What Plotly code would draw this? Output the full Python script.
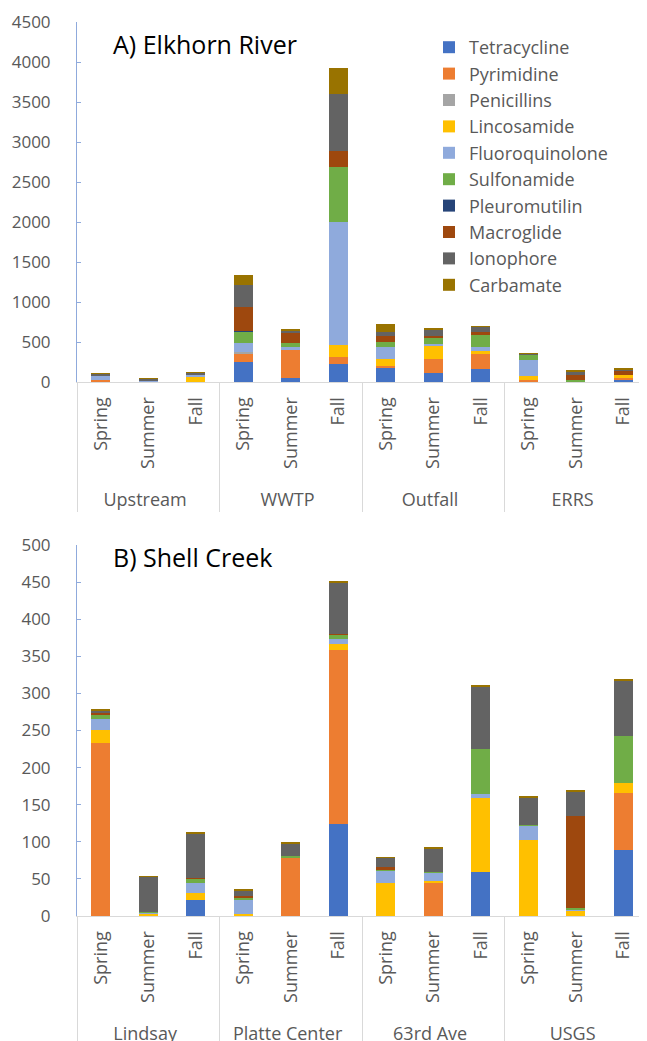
import plotly.graph_objects as go

# ---------------- data ----------------
series = ["Tetracycline", "Pyrimidine", "Penicillins", "Lincosamide", "Fluoroquinolone",
          "Sulfonamide", "Pleuromutilin", "Macroglide", "Ionophore", "Carbamate"]
colors = ["#4472C4", "#ED7D31", "#A5A5A5", "#FFC000", "#8FAADC",
          "#70AD47", "#264478", "#9E480E", "#636363", "#997300"]

seasons = ["Spring", "Summer", "Fall"]
sites_a = ["Upstream", "WWTP", "Outfall", "ERRS"]
sites_b = ["Lindsay", "Platte Center", "63rd Ave", "USGS"]

# A) Elkhorn River, order: Upstream Sp/Su/Fa, WWTP Sp/Su/Fa, Outfall Sp/Su/Fa, ERRS Sp/Su/Fa
tetracycline_a    = [0, 0, 0, 250, 50, 229, 171, 112, 158, 0, 0, 29]
pyrimidine_a      = [20, 0, 0, 104, 345, 79, 33, 171, 195, 29, 0, 17]
penicillins_a     = [0, 0, 0, 25, 0, 0, 0, 0, 0, 0, 0, 0]
lincosamide_a     = [0, 0, 60, 0, 0, 150, 87, 170, 33, 50, 0, 37]
fluoroquinolone_a = [55, 18, 30, 104, 37, 1547, 141, 21, 54, 200, 0, 0]
sulfonamide_a     = [0, 0, 0, 146, 54, 678, 62, 83, 158, 67, 21, 0]
pleuromutilin_a   = [0, 0, 0, 10, 0, 0, 0, 0, 0, 0, 0, 0]
macroglide_a      = [0, 0, 0, 294, 125, 200, 83, 21, 21, 0, 71, 62]
ionophore_a       = [25, 20, 25, 283, 33, 720, 54, 75, 71, 12, 42, 17]
carbamate_a       = [10, 8, 10, 121, 12, 316, 96, 21, 8, 4, 8, 8]

# B) Shell Creek, order: Lindsay, Platte Center, 63rd Ave, USGS (Sp/Su/Fa each)
tetracycline_b    = [0, 0, 21.6, 0, 0, 124, 0, 0, 59.7, 0, 0, 89]
pyrimidine_b      = [233.6, 0, 0, 0, 79.5, 234.5, 0, 45, 0, 0, 0, 76.4]
penicillins_b     = [0, 0, 0, 0, 0, 0, 0, 0, 0, 0, 0, 0]
lincosamide_b     = [16.6, 3.6, 9, 2.7, 0, 8.5, 44, 2.2, 100, 102.4, 7.2, 13.5]
fluoroquinolone_b = [14.8, 1, 13.5, 19.8, 0, 6.3, 16.6, 11.2, 5.4, 19.8, 1.8, 0]
sulfonamide_b     = [6.7, 1, 5.8, 2.2, 1.3, 5.4, 2.7, 1.3, 60.6, 1, 1.3, 64.2]
pleuromutilin_b   = [0, 0, 0, 0, 0, 0, 0, 0, 0, 0, 0, 0]
macroglide_b      = [1.8, 0, 1, 1.8, 0, 1, 2.2, 0, 0, 0, 125, 0]
ionophore_b       = [3.6, 47, 60, 7.6, 16.6, 69.6, 13, 31.4, 84, 36.4, 32.8, 73.7]
carbamate_b       = [1, 1, 1, 1.3, 1, 1.3, 1, 1.3, 1.3, 1.3, 1.3, 1.8]

values_a = [tetracycline_a, pyrimidine_a, penicillins_a, lincosamide_a, fluoroquinolone_a,
            sulfonamide_a, pleuromutilin_a, macroglide_a, ionophore_a, carbamate_a]
values_b = [tetracycline_b, pyrimidine_b, penicillins_b, lincosamide_b, fluoroquinolone_b,
            sulfonamide_b, pleuromutilin_b, macroglide_b, ionophore_b, carbamate_b]

PAD = "\u00a0\u00a0"  # leading no-break spaces push the site row a little lower

def multicat(sites):
    outer, inner = [], []
    for s in sites:
        for se in seasons:
            outer.append(s)
            inner.append(PAD + se)
    return [outer, inner]

x_a = multicat(sites_a)
x_b = multicat(sites_b)

# ---------------- figure ----------------
# the page body has an 8px default margin; the figure fills the rest of the window
OFF = 8
W, H = 647 - OFF, 1041 - OFF

def px(x):
    return (x - OFF) / W

def py(y):
    return 1 - (y - OFF) / H

fig = go.Figure()
for name, col, va, vb in zip(series, colors, values_a, values_b):
    fig.add_trace(go.Bar(x=x_a, y=va, name=name, marker=dict(color=col, line=dict(width=0)),
                         xaxis="x", yaxis="y", legendgroup=name))
    fig.add_trace(go.Bar(x=x_b, y=vb, name=name, marker=dict(color=col, line=dict(width=0)),
                         xaxis="x2", yaxis="y2", legendgroup=name, showlegend=False))

FONT = "Open Sans, sans-serif"
tick_font = dict(family=FONT, size=17, color="#595959")

xcommon = dict(type="multicategory", domain=[px(77), 1.0], showline=True, linecolor="#D9D9D9",
               linewidth=1, ticks="", tickangle=-90, automargin=False, ticklabelstandoff=7,
               tickfont=dict(family=FONT, size=18, color="#595959"),
               showdividers=True, dividercolor="#D9D9D9", dividerwidth=1, showgrid=False)
ycommon = dict(showline=True, linecolor="#8FAADC", linewidth=1, ticks="inside", ticklen=4,
               tickcolor="#8FAADC", showgrid=False, zeroline=False, tickfont=tick_font,
               ticklabelstandoff=22, automargin=False)

fig.update_layout(
    width=W, height=H,
    margin=dict(l=0, r=0, t=0, b=0, autoexpand=False),
    paper_bgcolor="white", plot_bgcolor="white",
    barmode="stack", bargap=0.6,
    xaxis=dict(**xcommon, anchor="y"),
    yaxis=dict(**ycommon, domain=[py(382), py(22)], range=[0, 4500], dtick=500, anchor="x"),
    xaxis2=dict(**xcommon, anchor="y2"),
    yaxis2=dict(**ycommon, domain=[py(916), py(545)], range=[0, 500], dtick=50, anchor="x2"),
    legend=dict(x=px(429), y=py(29), xanchor="left", yanchor="top", traceorder="normal",
                font=dict(family=FONT, size=18, color="#595959"),
                bgcolor="rgba(0,0,0,0)"),
    showlegend=True,
)

fig.add_annotation(text="A) Elkhorn River", x=px(111), y=py(44), xref="paper", yref="paper",
                   xanchor="left", yanchor="middle", showarrow=False,
                   font=dict(family=FONT, size=25, color="#000000"))
fig.add_annotation(text="B) Shell Creek", x=px(111), y=py(557), xref="paper", yref="paper",
                   xanchor="left", yanchor="middle", showarrow=False,
                   font=dict(family=FONT, size=25, color="#000000"))

fig.write_html("out.html")
